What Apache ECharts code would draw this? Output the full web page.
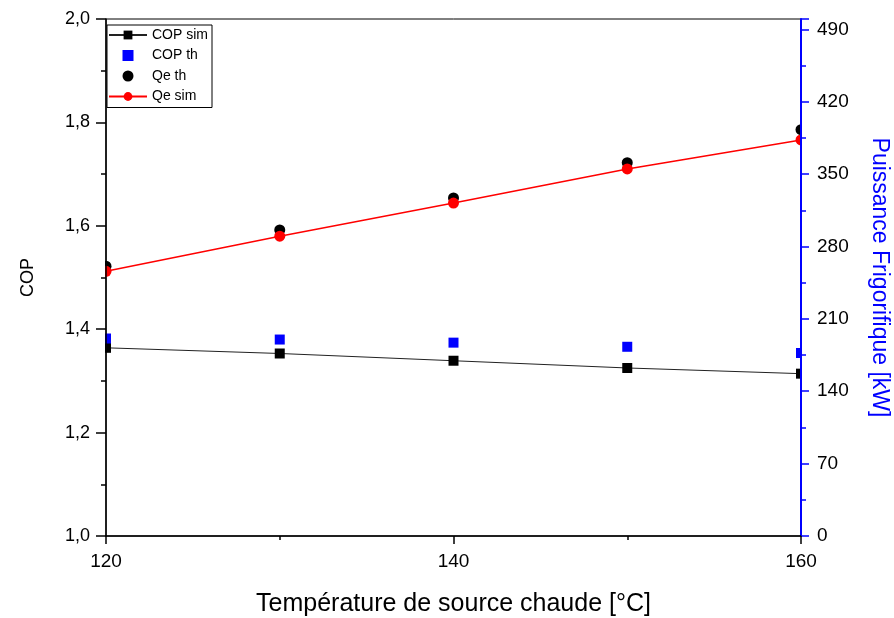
<!DOCTYPE html>
<html>
<head>
<meta charset="utf-8">
<script src="https://cdn.jsdelivr.net/npm/echarts@6/dist/echarts.min.js"></script>
<style>
html,body{margin:0;padding:0;background:#fff;}
#chart{width:894px;height:618px;}
</style>
</head>
<body>
<div id="chart"></div>
<script>
// Data
var temps = [120, 130, 140, 150, 160];
var copSim = [1.364, 1.353, 1.339, 1.325, 1.314];
var copTh = [1.382, 1.380, 1.374, 1.366, 1.354];
var qeTh = [261, 296, 327, 361, 393];
var qeSim = [256, 290, 322, 355, 383];

var xTicks = [120, 140, 160];
var copTicks = [1.0, 1.2, 1.4, 1.6, 1.8, 2.0];
var qeTicks = [0, 70, 140, 210, 280, 350, 420, 490];

function pairs(xs, ys) { return xs.map(function (x, i) { return [x, ys[i]]; }); }

var font = 'Liberation Sans, Arial, sans-serif';
var chart = echarts.init(document.getElementById('chart'));
chart.setOption({
  animation: false,
  backgroundColor: '#fff',
  textStyle: { fontFamily: font },
  grid: { left: 106, right: 93, top: 19, bottom: 82, show: true, borderColor: '#000', borderWidth: 1, z: 0,
          containLabel: false, outerBoundsMode: 'none' },
  graphic: [
    { type: 'rect', z: 5, shape: { x: 0, y: 0, width: 105, height: 618 }, style: { fill: '#fff' } },
    { type: 'rect', z: 5, shape: { x: 802, y: 0, width: 92, height: 618 }, style: { fill: '#fff' } }
  ],
  legend: {
    orient: 'vertical', left: 107, top: 25, z: 8,
    backgroundColor: '#fff', borderColor: '#000', borderWidth: 1,
    padding: [3, 4, 4, 1],
    itemWidth: 38, itemHeight: 11, itemGap: 6.5,
    textStyle: { fontSize: 14, color: '#000', fontFamily: font },
    data: [
      { name: 'COP sim' },
      { name: 'COP th', icon: 'path://M0,0h10v10h-10z' },
      { name: 'Qe th' },
      { name: 'Qe sim' }
    ]
  },
  xAxis: {
    type: 'value', min: xTicks[0], max: xTicks[xTicks.length - 1], interval: 20, z: 10,
    name: 'Température de source chaude [°C]', nameLocation: 'middle', nameGap: 56,
    nameTextStyle: { fontSize: 25, color: '#000', fontFamily: font },
    axisLine: { lineStyle: { color: '#000', width: 1.5 } },
    axisTick: { length: 8, lineStyle: { color: '#000', width: 1.5 } },
    minorTick: { show: true, splitNumber: 2, length: 4, lineStyle: { color: '#000', width: 1.5 } },
    axisLabel: { fontSize: 19, color: '#000', margin: 16, fontFamily: font },
    splitLine: { show: false }
  },
  yAxis: [
    {
      type: 'value', min: copTicks[0], max: copTicks[copTicks.length - 1], interval: 0.2, position: 'left', z: 10,
      name: 'COP', nameLocation: 'middle', nameGap: 69, nameRotate: 90,
      nameTextStyle: { fontSize: 18, color: '#000', fontFamily: font },
      axisLine: { show: true, lineStyle: { color: '#000', width: 1.5 } },
      axisTick: { show: true, length: 10, lineStyle: { color: '#000', width: 1.5 } },
      minorTick: { show: true, splitNumber: 2, length: 5, lineStyle: { color: '#000', width: 1.5 } },
      axisLabel: { fontSize: 18, color: '#000', margin: 16, fontFamily: font,
        formatter: function (v) { return v.toFixed(1).replace('.', ','); } },
      splitLine: { show: false }
    },
    {
      type: 'value', min: 0, max: 500, interval: 70, position: 'right', z: 10,
      name: 'Puissance Frigorifique [kW]', nameLocation: 'middle', nameGap: 67, nameRotate: -90,
      nameTextStyle: { fontSize: 23, color: '#0000ff', fontFamily: font },
      axisLine: { show: true, lineStyle: { color: '#0000ff', width: 2 } },
      axisTick: { show: true, length: 8, lineStyle: { color: '#0000ff', width: 1.5 } },
      minorTick: { show: true, splitNumber: 2, length: 5, lineStyle: { color: '#0000ff', width: 1.5 } },
      axisLabel: { fontSize: 19, color: '#000', margin: 16, fontFamily: font, showMaxLabel: false },
      splitLine: { show: false }
    }
  ],
  series: [
    {
      name: 'COP sim', type: 'line', yAxisIndex: 0, data: pairs(temps, copSim),
      symbol: 'rect', symbolSize: 10, showAllSymbol: true,
      itemStyle: { color: '#000', opacity: 1 }, lineStyle: { color: '#222', width: 1 }, z: 2
    },
    {
      name: 'COP th', type: 'scatter', yAxisIndex: 0, data: pairs(temps, copTh),
      symbol: 'rect', symbolSize: 10, itemStyle: { color: '#0000ff', opacity: 1 }, z: 2
    },
    {
      name: 'Qe th', type: 'scatter', yAxisIndex: 1, data: pairs(temps, qeTh),
      symbol: 'circle', symbolSize: 11, itemStyle: { color: '#000', opacity: 1 }, z: 2
    },
    {
      name: 'Qe sim', type: 'line', yAxisIndex: 1, data: pairs(temps, qeSim),
      symbol: 'circle', symbolSize: 11, showAllSymbol: true,
      itemStyle: { color: '#ff0000', opacity: 1 }, lineStyle: { color: '#ff0000', width: 1.5 }, z: 3
    }
  ]
});
</script>
</body>
</html>
